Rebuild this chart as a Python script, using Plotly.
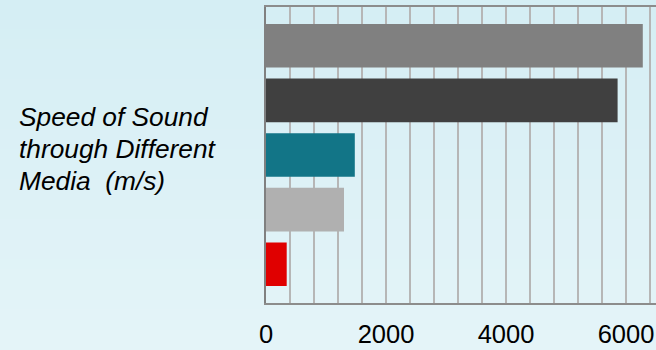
import plotly.graph_objects as go

# Speed of sound in several media (m/s), listed top to bottom
media = ["Aluminium", "Steel", "Water", "Hydrogen", "Air"]
speeds = [6280, 5860, 1480, 1300, 345]
bar_colors = ["#808080", "#404040", "#127587", "#b0b0b0", "#e00000"]

title_lines = ["Speed of Sound", "through Different", "Media  (m/s)"]

W, H = 656, 350
FONT = "Liberation Sans, Arial, sans-serif"
PLOT_L, PLOT_T, PLOT_B = 266, 7, 303


def paper_x(px):
    return (px - PLOT_L) / (W - PLOT_L)


def paper_y(py):
    return (PLOT_B - py) / (PLOT_B - PLOT_T)


fig = go.Figure(
    go.Bar(
        x=speeds,
        y=media,
        orientation="h",
        marker=dict(color=bar_colors, line=dict(width=0)),
        width=0.8,
        hoverinfo="x+y",
    )
)

# soft vertical background gradient drawn as thin horizontal bands
top_rgb = (213, 238, 244)
bot_rgb = (228, 244, 248)
n_bands = 35
shapes = []
for i in range(n_bands):
    t = i / (n_bands - 1)
    r, g, b = (round(a + (c - a) * t) for a, c in zip(top_rgb, bot_rgb))
    py0 = H * i / n_bands
    py1 = H * (i + 1) / n_bands
    shapes.append(
        dict(
            type="rect", xref="paper", yref="paper",
            x0=-1.0, x1=1.1,
            y0=paper_y(py1) - 0.002, y1=paper_y(py0) + 0.002,
            fillcolor=f"rgb({r},{g},{b})", line=dict(width=0), layer="below",
        )
    )

# multi-line axis caption on the left, one annotation per line
line_centres = [117, 149, 181]
annotations = [
    dict(
        text=txt,
        xref="paper", yref="paper",
        x=paper_x(17), y=paper_y(cy),
        xanchor="left", yanchor="middle",
        align="left",
        showarrow=False,
        font=dict(size=26.3, family=FONT, style="italic", color="#000000"),
    )
    for txt, cy in zip(title_lines, line_centres)
]

fig.update_layout(
    width=W,
    height=H,
    margin=dict(l=PLOT_L, r=0, t=PLOT_T, b=H - PLOT_B),
    paper_bgcolor="rgb(220,241,246)",
    plot_bgcolor="rgba(0,0,0,0)",
    showlegend=False,
    bargap=0.2,
    shapes=shapes,
    font=dict(family=FONT, color="#000000"),
    xaxis=dict(
        range=[0, 6500],
        dtick=2000,
        tick0=0,
        showgrid=True,
        gridcolor="#b6b6b6",
        gridwidth=2,
        minor=dict(dtick=400, showgrid=True, gridcolor="#b6b6b6", gridwidth=2),
        zeroline=False,
        showline=True,
        linecolor="#8c8c8c",
        linewidth=2,
        mirror=True,
        ticks="",
        tickfont=dict(size=25.5, family=FONT, color="#000000"),
        ticklabelstandoff=7,
    ),
    yaxis=dict(
        type="category",
        range=[4.71, -0.71],
        showgrid=False,
        zeroline=False,
        showline=True,
        linecolor="#808080",
        linewidth=2,
        showticklabels=False,
        ticks="",
    ),
    annotations=annotations,
)

fig.write_html("out.html")
